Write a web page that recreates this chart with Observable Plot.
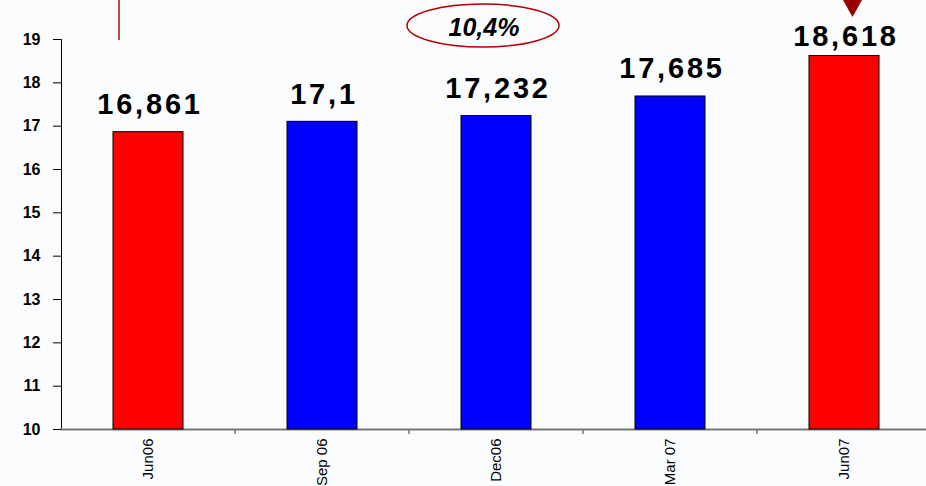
<!DOCTYPE html>
<html>
<head>
<meta charset="utf-8">
<script src="https://cdn.jsdelivr.net/npm/d3@7"></script>
<script src="https://cdn.jsdelivr.net/npm/@observablehq/plot@0.6"></script>
<style>
  html, body { margin: 0; padding: 0; background: #fafcfe; }
  #chart svg { display: block; }
</style>
</head>
<body>
<div id="chart"></div>
<script>
// Quarterly figures, June 2006 – June 2007
const quarters = ["Jun06", "Sep 06", "Dec06", "Mar 07", "Jun07"];
const values = [16.861, 17.1, 17.232, 17.685, 18.618];
const yTicks = [10, 11, 12, 13, 14, 15, 16, 17, 18, 19];
const growthLabel = "10,4%";

// The two quarters compared year over year are shown in red
const compared = [quarters[0], quarters[quarters.length - 1]];

const data = quarters.map((q, i) => ({quarter: q, value: values[i]}));
const yMin = yTicks[0];
const yMax = yTicks[yTicks.length - 1];
const fmt = v => String(v).replace(".", ",");

const W = 926, H = 486;
const font = "'Liberation Sans', Arial, Helvetica, sans-serif";

// tick marks between categories, hanging below the baseline
const categoryTicks = (index, scales) => {
  const x = scales.x, y = scales.y;
  const bw = x.bandwidth ? x.bandwidth() : 0;
  const step = x(quarters[1]) - x(quarters[0]);
  const g = d3.create("svg:g").attr("stroke", "#777").attr("stroke-width", 1.5);
  quarters.forEach(q => {
    const bx = x(q) + bw + (step - bw) / 2;
    g.append("line").attr("x1", bx).attr("x2", bx).attr("y1", y(yMin)).attr("y2", y(yMin) + 5);
  });
  return g.node();
};

// callouts: growth ellipse and the connector pieces
const callouts = () => {
  const g = d3.create("svg:g");
  g.append("line")
    .attr("x1", 119).attr("x2", 119).attr("y1", 0).attr("y2", 40)
    .attr("stroke", "#a01010").attr("stroke-width", 1.5);
  g.append("path")
    .attr("d", "M843,0L862,0L852.5,17Z")
    .attr("fill", "#990000");
  g.append("ellipse")
    .attr("cx", 483).attr("cy", 25.5).attr("rx", 76).attr("ry", 21.5)
    .attr("fill", "none").attr("stroke", "#b00000").attr("stroke-width", 1.5);
  g.append("text")
    .attr("x", 484).attr("y", 35.5)
    .attr("text-anchor", "middle")
    .attr("font-size", 25).attr("font-weight", "bold").attr("font-style", "italic")
    .attr("font-family", font).attr("fill", "#000")
    .text(growthLabel);
  return g.node();
};

const labelStyle = {
  x: "quarter",
  y: "value",
  text: d => fmt(d.value),
  textAnchor: "middle",
  lineAnchor: "bottom",
  fontSize: 29,
  fontWeight: "bold",
  fill: "#000",
  dx: 1.5
};

const chart = Plot.plot({
  width: W,
  height: H,
  marginLeft: 61,
  marginRight: 0,
  marginTop: 39,
  marginBottom: 57,
  style: {fontFamily: font, background: "#fafcfe", color: "#000", overflow: "visible"},
  x: {
    domain: quarters,
    range: [61, 931],
    paddingInner: 0.6,
    paddingOuter: 0.3,
    tickSize: 0,
    tickPadding: 9,
    tickRotate: -90,
    label: null
  },
  y: {
    domain: [yMin, yMax],
    ticks: yTicks,
    tickSize: 8,
    tickPadding: 13,
    tickFormat: d => String(d),
    line: true,
    label: null
  },
  marks: [
    Plot.ruleY([yMin], {stroke: "#777", strokeWidth: 2}),
    categoryTicks,
    Plot.barY(data, {
      x: "quarter",
      y1: () => yMin,
      y2: "value",
      fill: d => compared.includes(d.quarter) ? "#ff0000" : "#0000ff",
      stroke: "#000",
      strokeWidth: 1
    }),
    Plot.text(data.filter(d => d.value < 18.5), {...labelStyle, dy: -18}),
    Plot.text(data.filter(d => d.value >= 18.5), {...labelStyle, dy: -10}),
    callouts
  ]
});

// axis and value label typography
const svg = d3.select(chart);
svg.selectAll('g[aria-label^="y-axis"] text')
  .style("font-size", "16px").style("font-weight", "bold").style("fill", "#000");
svg.selectAll('g[aria-label^="x-axis"] text')
  .style("font-size", "15px").style("fill", "#000");
svg.selectAll('g[aria-label="text"] text')
  .style("letter-spacing", "2.8px");

document.getElementById("chart").appendChild(chart);
</script>
</body>
</html>
